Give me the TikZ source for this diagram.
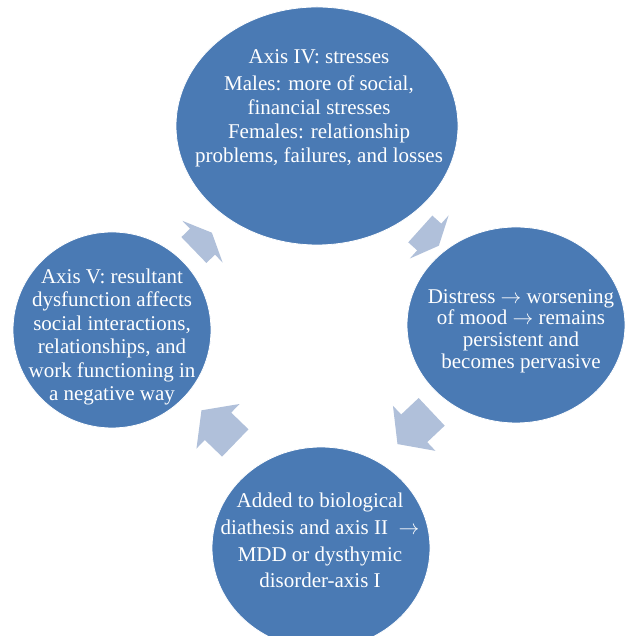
\documentclass[tikz,border=0pt]{standalone}
\usepackage{fontspec}
\setmainfont{Liberation Serif}
\usetikzlibrary{shapes.geometric}
\definecolor{discblue}{HTML}{4A7AB4}
\definecolor{arrowtint}{HTML}{B0C0DA}
\begin{document}
\begin{tikzpicture}[x=1pt,y=1pt,
  disc/.style={ellipse, fill=discblue, draw=white, line width=0.8pt, inner sep=0pt},
  caption/.style={text=white, align=center, inner sep=0pt},
  smallarrow/.pic={\fill[arrowtint] (-12,18) -- (0,18) -- (0,29) -- (13,0) -- (0,-29) -- (0,-18) -- (-12,-18) -- cycle;},
  bigarrow/.pic={\fill[arrowtint] (-24,19) -- (0,19) -- (0,31) -- (23,0) -- (0,-31) -- (0,-19) -- (-24,-19) -- cycle;}]
\useasboundingbox (0,0) rectangle (625,636);

% the four stages of the cycle
\node[disc, minimum width=282pt, minimum height=238pt] (stress) at (317,510) {};
\node[disc, minimum width=218pt, minimum height=196pt] (mood) at (516,311) {};
\node[disc, minimum width=218pt, minimum height=202pt] (disorder) at (321,88) {};
\node[disc, minimum width=198pt, minimum height=196pt] (dysfunction) at (112,306) {};

% texts
\node[caption, font=\fontsize{21}{24}\selectfont] (stresstext) at (319,528) {Axis IV: stresses\\[3pt] Males: more of social,\\ financial stresses\\ Females: relationship\\ problems, failures, and losses};
\node[caption, font=\fontsize{21}{21.7}\selectfont] (moodtext) at (521,305) {Distress $\rightarrow$ worsening\\ of mood $\rightarrow$ remains\\ persistent and\\ becomes pervasive};
\node[caption, font=\fontsize{21}{26.7}\selectfont] (disordertext) at (320,95.5) {Added to biological\\ diathesis and axis II\ \ $\rightarrow$\\ MDD or dysthymic\\ disorder-axis I};
\node[caption, font=\fontsize{21}{23.4}\selectfont] (dysfunctiontext) at (112,299) {Axis V: resultant\\ dysfunction affects\\ social interactions,\\ relationships, and\\ work functioning in\\ a negative way};

% block arrows between the stages
\pic[rotate=44] at (202.5,394.3) {smallarrow};
\pic[rotate=-42] at (429.2,399) {smallarrow};
\pic[rotate=-136.7] at (414.2,207.7) {bigarrow};
\pic[rotate=136] at (218,209.7) {bigarrow};
\end{tikzpicture}
\end{document}
